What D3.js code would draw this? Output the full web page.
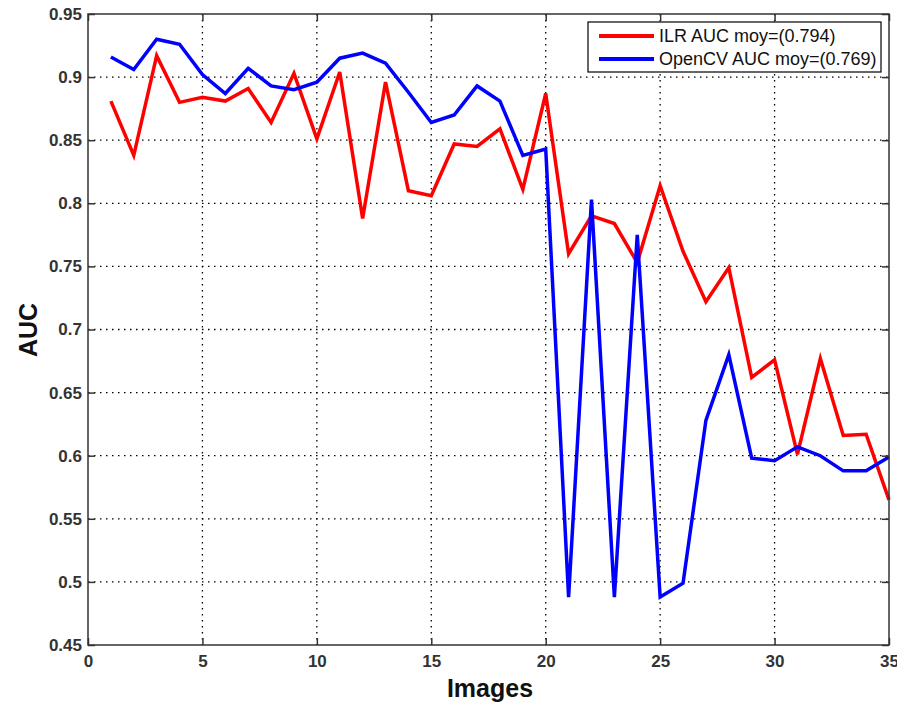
<!DOCTYPE html>
<html><head><meta charset="utf-8">
<script src="https://cdn.jsdelivr.net/npm/d3@7"></script>
<style>body{margin:0;background:#fff}svg{display:block}</style>
</head><body>
<svg id="c" width="897" height="702"></svg>
<script>
const images = d3.range(1, 36);
const ilr = [0.881,0.838,0.917,0.880,0.884,0.881,0.891,0.864,0.903,0.851,
             0.904,0.788,0.896,0.810,0.806,0.847,0.845,0.859,0.811,0.887,
             0.760,0.790,0.784,0.753,0.814,0.762,0.722,0.749,0.662,0.676,
             0.601,0.677,0.616,0.617,0.565];
const opencv = [0.916,0.906,0.930,0.926,0.902,0.887,0.907,0.893,0.890,0.896,
                0.915,0.919,0.911,0.888,0.864,0.870,0.893,0.881,0.838,0.843,
                0.488,0.803,0.488,0.775,0.488,0.499,0.628,0.680,0.598,0.596,
                0.607,0.600,0.588,0.588,0.599];
const xTicks = [0,5,10,15,20,25,30,35];
const yTicks = [0.45,0.5,0.55,0.6,0.65,0.7,0.75,0.8,0.85,0.9,0.95];
const legendLabels = ["ILR AUC moy=(0.794)","OpenCV AUC moy=(0.769)"];
const colors = ["#ff0000","#0000ff"];

const svg = d3.select("#c");
const L=88, R=889, T=14, B=645;
const x = d3.scaleLinear().domain([0,35]).range([L,R]);
const y = d3.scaleLinear().domain([0.45,0.95]).range([B,T]);
const font = "'Liberation Sans', Arial, sans-serif";

// grid
const g = svg.append("g");
g.selectAll(".gx").data(xTicks.slice(1,-1)).join("line")
  .attr("x1",d=>x(d)).attr("x2",d=>x(d)).attr("y1",T).attr("y2",B)
  .attr("stroke","#000").attr("stroke-width",1.3).attr("stroke-dasharray","1.5,4.5");
g.selectAll(".gy").data(yTicks.slice(1,-1)).join("line")
  .attr("y1",d=>y(d)).attr("y2",d=>y(d)).attr("x1",L).attr("x2",R)
  .attr("stroke","#000").attr("stroke-width",1.3).attr("stroke-dasharray","1.5,4.5");

// lines
const line = d3.line().x((d,i)=>x(images[i])).y(d=>y(d));
[ilr, opencv].forEach((s,k)=>{
  svg.append("path").datum(s).attr("d",line).attr("fill","none")
    .attr("stroke",colors[k]).attr("stroke-width",3.5).attr("stroke-linejoin","miter");
});

// axes
const ax = svg.append("g").attr("transform",`translate(0,${B})`)
  .call(d3.axisBottom(x).tickValues(xTicks).tickSize(-7).tickPadding(10).tickFormat(d3.format("d")));
const ay = svg.append("g").attr("transform",`translate(${L},0)`)
  .call(d3.axisLeft(y).tickValues(yTicks).tickSize(-7).tickPadding(6).tickFormat(d=>String(+d.toFixed(2))));
const axT = svg.append("g").attr("transform",`translate(0,${T})`)
  .call(d3.axisTop(x).tickValues(xTicks).tickSize(-7).tickFormat(""));
const ayR = svg.append("g").attr("transform",`translate(${R},0)`)
  .call(d3.axisRight(y).tickValues(yTicks).tickSize(-7).tickFormat(""));
[ax,ay,axT,ayR].forEach(a=>{
  a.selectAll("path,line").attr("stroke","#333").attr("stroke-width",1.5);
  a.selectAll("path").attr("d", null);
  a.selectAll("text").attr("font-family",font).attr("font-size",17).attr("fill","#333").attr("font-weight","bold");
});
ax.selectAll("text").attr("dy","0.71em");
svg.append("rect").attr("x",L).attr("y",T).attr("width",R-L).attr("height",B-T)
  .attr("fill","none").attr("stroke","#333").attr("stroke-width",1.5);

// axis titles
svg.append("text").attr("x",490).attr("y",697).attr("text-anchor","middle")
  .attr("font-family",font).attr("font-weight","bold").attr("font-size",25).attr("fill","#111").text("Images");
svg.append("text").attr("transform","translate(37,330) rotate(-90)").attr("text-anchor","middle")
  .attr("font-family",font).attr("font-weight","bold").attr("font-size",25).attr("fill","#111").text("AUC");

// legend
const lg = svg.append("g");
lg.append("rect").attr("x",588).attr("y",22).attr("width",293).attr("height",50)
  .attr("fill","#fff").attr("stroke","#000").attr("stroke-width",1.2);
legendLabels.forEach((t,i)=>{
  const yy = 36 + i*23;
  lg.append("line").attr("x1",599).attr("x2",654).attr("y1",yy).attr("y2",yy)
    .attr("stroke",colors[i]).attr("stroke-width",4);
  lg.append("text").attr("x",659).attr("y",yy).attr("dy","0.35em")
    .attr("font-family",font).attr("font-size",18).attr("fill","#111").text(t);
});
</script>
</body></html>
